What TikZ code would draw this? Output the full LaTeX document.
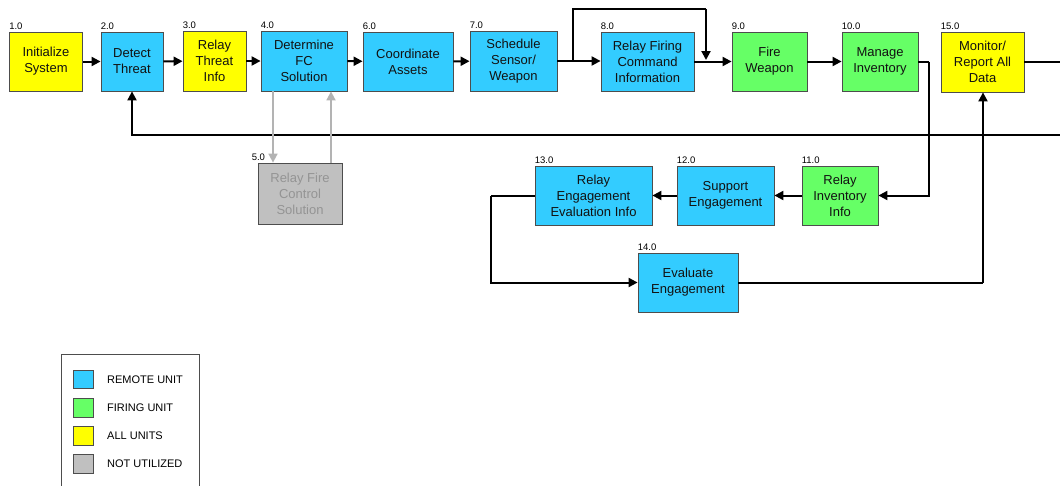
\documentclass[tikz,border=0pt]{standalone}
\usepackage{fontspec}
\setmainfont{Liberation Sans}
\usetikzlibrary{arrows.meta}
\definecolor{remote}{HTML}{33CCFF}
\definecolor{firing}{HTML}{66FF66}
\definecolor{allunits}{HTML}{FFFF00}
\definecolor{unused}{HTML}{C0C0C0}
\definecolor{boxline}{HTML}{4D4D4D}
\definecolor{greyflow}{HTML}{B3B3B3}
\tikzset{
  fbox/.style={draw=boxline, line width=0.8pt, inner sep=0pt, align=center,
    text=black!93, font=\fontsize{13}{16}\selectfont},
  remotebox/.style={fbox, fill=remote},
  firingbox/.style={fbox, fill=firing},
  allbox/.style={fbox, fill=allunits},
  unusedbox/.style={fbox, fill=unused, text=black!42},
  num/.style={anchor=south west, inner sep=0pt, yshift=2pt, font=\fontsize{9.5}{10}\selectfont},
  flow/.style={line width=2pt, black, -{Triangle[length=9pt,width=9pt]}},
  plain/.style={line width=2pt, black},
  gflow/.style={line width=1.7pt, greyflow, -{Triangle[length=9pt,width=9pt]}},
  swatch/.style={draw=boxline, line width=0.8pt, minimum width=20pt, minimum height=18.5pt, inner sep=0pt},
  legtext/.style={anchor=west, inner sep=0pt, font=\fontsize{11}{12}\selectfont},
}
\begin{document}
\begin{tikzpicture}[x=1pt,y=-1pt]
\useasboundingbox (0,0) rectangle (1060,485);
\clip (0,0) rectangle (1060,485);
\fill[white] (0,0) rectangle (1060,485);

% main process boxes
\node[allbox, minimum width=73pt, minimum height=59pt] (n1) at (46,61.5) {Initialize\\System};
\node[remotebox, minimum width=62pt, minimum height=59pt] (n2) at (132,61.5) {Detect\\Threat};
\node[allbox, minimum width=63pt, minimum height=60pt] (n3) at (214.5,61) {Relay\\Threat\\Info};
\node[remotebox, minimum width=86pt, minimum height=60pt] (n4) at (304,61) {Determine\\FC\\Solution};
\node[remotebox, minimum width=90pt, minimum height=59pt] (n6) at (408,61.5) {Coordinate\\Assets};
\node[remotebox, minimum width=87pt, minimum height=60pt] (n7) at (513.5,61) {Schedule\\Sensor/\\Weapon};
\node[remotebox, minimum width=93pt, minimum height=59pt] (n8) at (647.5,61.5) {Relay Firing\\Command\\Information};
\node[firingbox, minimum width=75pt, minimum height=59pt] (n9) at (769.5,61.5) {Fire\\Weapon};
\node[firingbox, minimum width=76pt, minimum height=59pt] (n10) at (880,61.5) {Manage\\Inventory};
\node[allbox, minimum width=83pt, minimum height=60pt] (n15) at (982.5,62) {Monitor/\\Report All\\Data};

\node[unusedbox, minimum width=84pt, minimum height=61pt] (n5) at (300,193.5) {Relay Fire\\Control\\Solution};
\node[remotebox, minimum width=117pt, minimum height=59pt] (n13) at (593.5,195.5) {Relay\\Engagement\\Evaluation Info};
\node[remotebox, minimum width=97pt, minimum height=59pt] (n12) at (725.5,195.5) {Support\\Engagement};
\node[firingbox, minimum width=76pt, minimum height=59pt] (n11) at (840,195.5) {Relay\\Inventory\\Info};
\node[remotebox, minimum width=100pt, minimum height=59pt] (n14) at (688,282.5) {Evaluate\\Engagement};

% step numbers
\node[num] (l1) at (n1.north west) {1.0};
\node[num] (l2) at (n2.north west) {2.0};
\node[num] (l3) at (n3.north west) {3.0};
\node[num] (l4) at (n4.north west) {4.0};
\node[num, xshift=-6pt] (l5) at (n5.north west) {5.0};
\node[num] (l6) at (n6.north west) {6.0};
\node[num] (l7) at (n7.north west) {7.0};
\node[num] (l8) at (n8.north west) {8.0};
\node[num] (l9) at (n9.north west) {9.0};
\node[num] (l10) at (n10.north west) {10.0};
\node[num] (l11) at (n11.north west) {11.0};
\node[num] (l12) at (n12.north west) {12.0};
\node[num] (l13) at (n13.north west) {13.0};
\node[num] (l14) at (n14.north west) {14.0};
\node[num] (l15) at (n15.north west) {15.0};

% routing points
\coordinate (br) at (573,61);
\coordinate (brtop) at (706,9);
\coordinate (brend) at (706,60);
\coordinate (invturn) at (929,61.5);
\coordinate (engturn) at (491,196);
\coordinate (evalturn) at (983,282.5);
\coordinate (outR) at (1075,62);
\coordinate (fbR) at (1075,135);
\coordinate (gdown) at (273,0);
\coordinate (gup) at (331,0);

% main flow
\draw[flow] (n1) -- (n2);
\draw[flow] (n2) -- (n3);
\draw[flow] (n3) -- (n4);
\draw[flow] (n4) -- (n6);
\draw[flow] (n6) -- (n7);
\draw[flow] (n7.east |- br) -- (n8.west |- br);
\draw[plain] (br) |- (brtop);
\draw[flow] (brtop) -- (brend);
\draw[flow] (n8) -- (n9);
\draw[flow] (n9) -- (n10);
\draw[plain] (n10.east) -- (invturn);
\draw[flow] (invturn) |- (n11.east);
\draw[flow] (n11) -- (n12);
\draw[flow] (n12) -- (n13);
\draw[plain] (n13.west |- engturn) -- (engturn);
\draw[flow] (engturn) |- (n14.west);
\draw[plain] (n14.east) -- (evalturn);
\draw[flow] (evalturn) -- (n15.south -| evalturn);
\draw[plain] (n15.east) -- (outR) -- (fbR);
\draw[flow] (fbR) -| (n2.south);

% unused branch
\draw[gflow] (n4.south -| gdown) -- (n5.north -| gdown);
\draw[gflow] (n5.north -| gup) -- (n4.south -| gup);

% legend
\draw[boxline, line width=0.8pt, fill=white] (61,354) rectangle (199,500);
\node[swatch, fill=remote] (s1) at (83,379.5) {};
\node[swatch, fill=firing] (s2) at (83,408) {};
\node[swatch, fill=allunits] (s3) at (83,436) {};
\node[swatch, fill=unused] (s4) at (83,464) {};
\node[legtext] (t1) at (107,379.5) {REMOTE UNIT};
\node[legtext] (t2) at (107,408) {FIRING UNIT};
\node[legtext] (t3) at (107,436) {ALL UNITS};
\node[legtext] (t4) at (107,464) {NOT UTILIZED};
\end{tikzpicture}
\end{document}
